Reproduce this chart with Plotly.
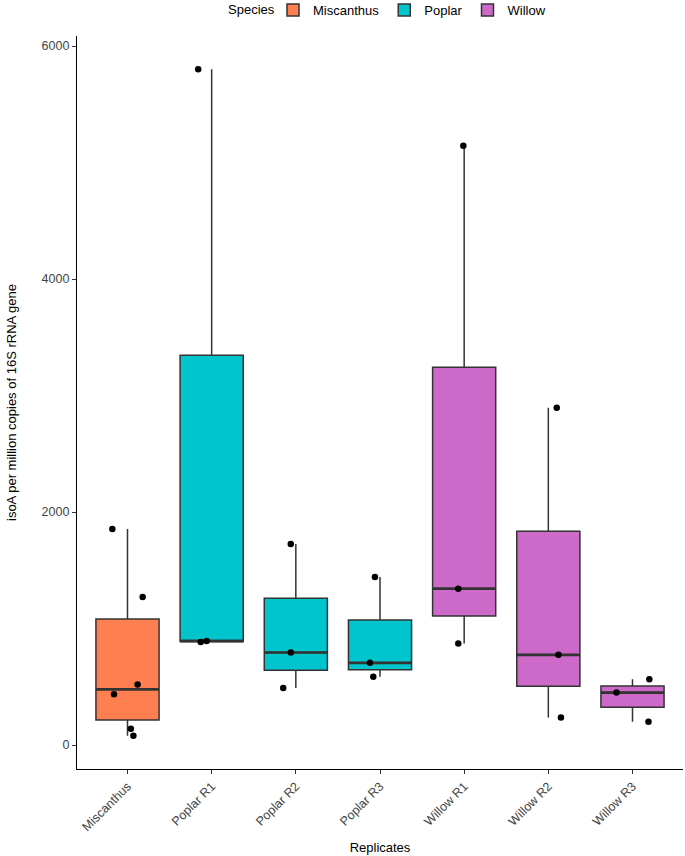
import numpy as np
import plotly.graph_objects as go

# ---- data ----
categories = ["Miscanthus", "Poplar R1", "Poplar R2", "Poplar R3",
              "Willow R1", "Willow R2", "Willow R3"]
species = ["Miscanthus", "Poplar", "Poplar", "Poplar", "Willow", "Willow", "Willow"]

values = {
    "Miscanthus": [1855, 1270, 519, 436, 140, 80],
    "Poplar R1": [5800, 885, 892],
    "Poplar R2": [1726, 794, 490],
    "Poplar R3": [1442, 705, 585],
    "Willow R1": [5144, 1342, 871],
    "Willow R2": [2896, 774, 235],
    "Willow R3": [565, 450, 200],
}
# horizontal jitter of the points (category units), as seen in the picture
jitter = {
    "Miscanthus": [-0.18, 0.18, 0.12, -0.16, 0.04, 0.07],
    "Poplar R1": [-0.16, -0.13, -0.06],
    "Poplar R2": [-0.06, -0.06, -0.15],
    "Poplar R3": [-0.06, -0.12, -0.08],
    "Willow R1": [-0.01, -0.07, -0.07],
    "Willow R2": [0.10, 0.12, 0.15],
    "Willow R3": [0.20, -0.19, 0.19],
}
species_colors = {"Miscanthus": "#FF7F50", "Poplar": "#00C5CD", "Willow": "#CD69C9"}

legend_title = "Species"
y_title = "isoA per million copies of 16S rRNA gene"
x_title = "Replicates"
y_ticks = [0, 2000, 4000, 6000]

BOX_W = 0.75
LINE_C = "#333333"

fig = go.Figure()
shown = set()
for i, cat in enumerate(categories, start=1):
    v = np.array(values[cat], dtype=float)
    q1, med, q3 = np.percentile(v, [25, 50, 75])
    iqr = q3 - q1
    lo = v[v >= q1 - 1.5 * iqr].min()
    hi = v[v <= q3 + 1.5 * iqr].max()
    sp = species[i - 1]
    fig.add_trace(go.Box(
        x=[i], q1=[q1], median=[med], q3=[q3], lowerfence=[lo], upperfence=[hi],
        width=BOX_W, whiskerwidth=0, boxpoints=False,
        fillcolor=species_colors[sp], line=dict(color=LINE_C, width=1.5),
        name=sp, legendgroup=sp, showlegend=sp not in shown, hoverinfo="skip",
    ))
    shown.add(sp)
    # thicker median line (ggplot style)
    fig.add_trace(go.Scatter(
        x=[i - BOX_W / 2, i + BOX_W / 2], y=[med, med], mode="lines",
        line=dict(color=LINE_C, width=2.6), showlegend=False, hoverinfo="skip",
    ))
    fig.add_trace(go.Scatter(
        x=[i + j for j in jitter[cat]], y=v, mode="markers",
        marker=dict(color="black", size=6.5), showlegend=False, hoverinfo="skip",
    ))

axis_font = dict(family="Liberation Sans, Arial, sans-serif", size=12.5, color="#444444")
fig.update_layout(
    width=685, height=856,
    margin=dict(l=77, r=2, t=36, b=87, autoexpand=False),
    paper_bgcolor="white", plot_bgcolor="white",
    font=dict(family="Liberation Sans, Arial, sans-serif", size=13, color="black"),
    legend=dict(orientation="h", xref="container", x=273 / 685, xanchor="left",
                yref="container", y=1 - 10 / 856, yanchor="middle",
                font=dict(size=13), itemwidth=30, tracegroupgap=0),
    xaxis=dict(range=[0.4, 7.6], tickvals=list(range(1, len(categories) + 1)),
               ticktext=categories, tickangle=-45, tickfont=axis_font,
               showline=True, linecolor="black", linewidth=1.2,
               ticks="outside", ticklen=4, tickcolor=LINE_C, showgrid=False,
               zeroline=False, automargin=False,
               title=dict(text=x_title, font=dict(size=13), standoff=9)),
    yaxis=dict(range=[-206, 6086], tickvals=y_ticks, tickfont=axis_font,
               showline=True, linecolor="black", linewidth=1.2,
               ticks="outside", ticklen=4, tickcolor=LINE_C, showgrid=False,
               zeroline=False, automargin=False,
               title=dict(text=y_title, font=dict(size=13), standoff=22)),
    annotations=[dict(text=legend_title, xref="paper", yref="paper",
                      x=(277 - 77) / 606, xanchor="right",
                      y=1 + (36 - 10) / 733, yanchor="middle",
                      showarrow=False, font=dict(size=13))],
)
fig.write_html("out.html", config={"displayModeBar": False},
               post_script="document.body.style.margin='0px';document.body.style.overflow='hidden';")
